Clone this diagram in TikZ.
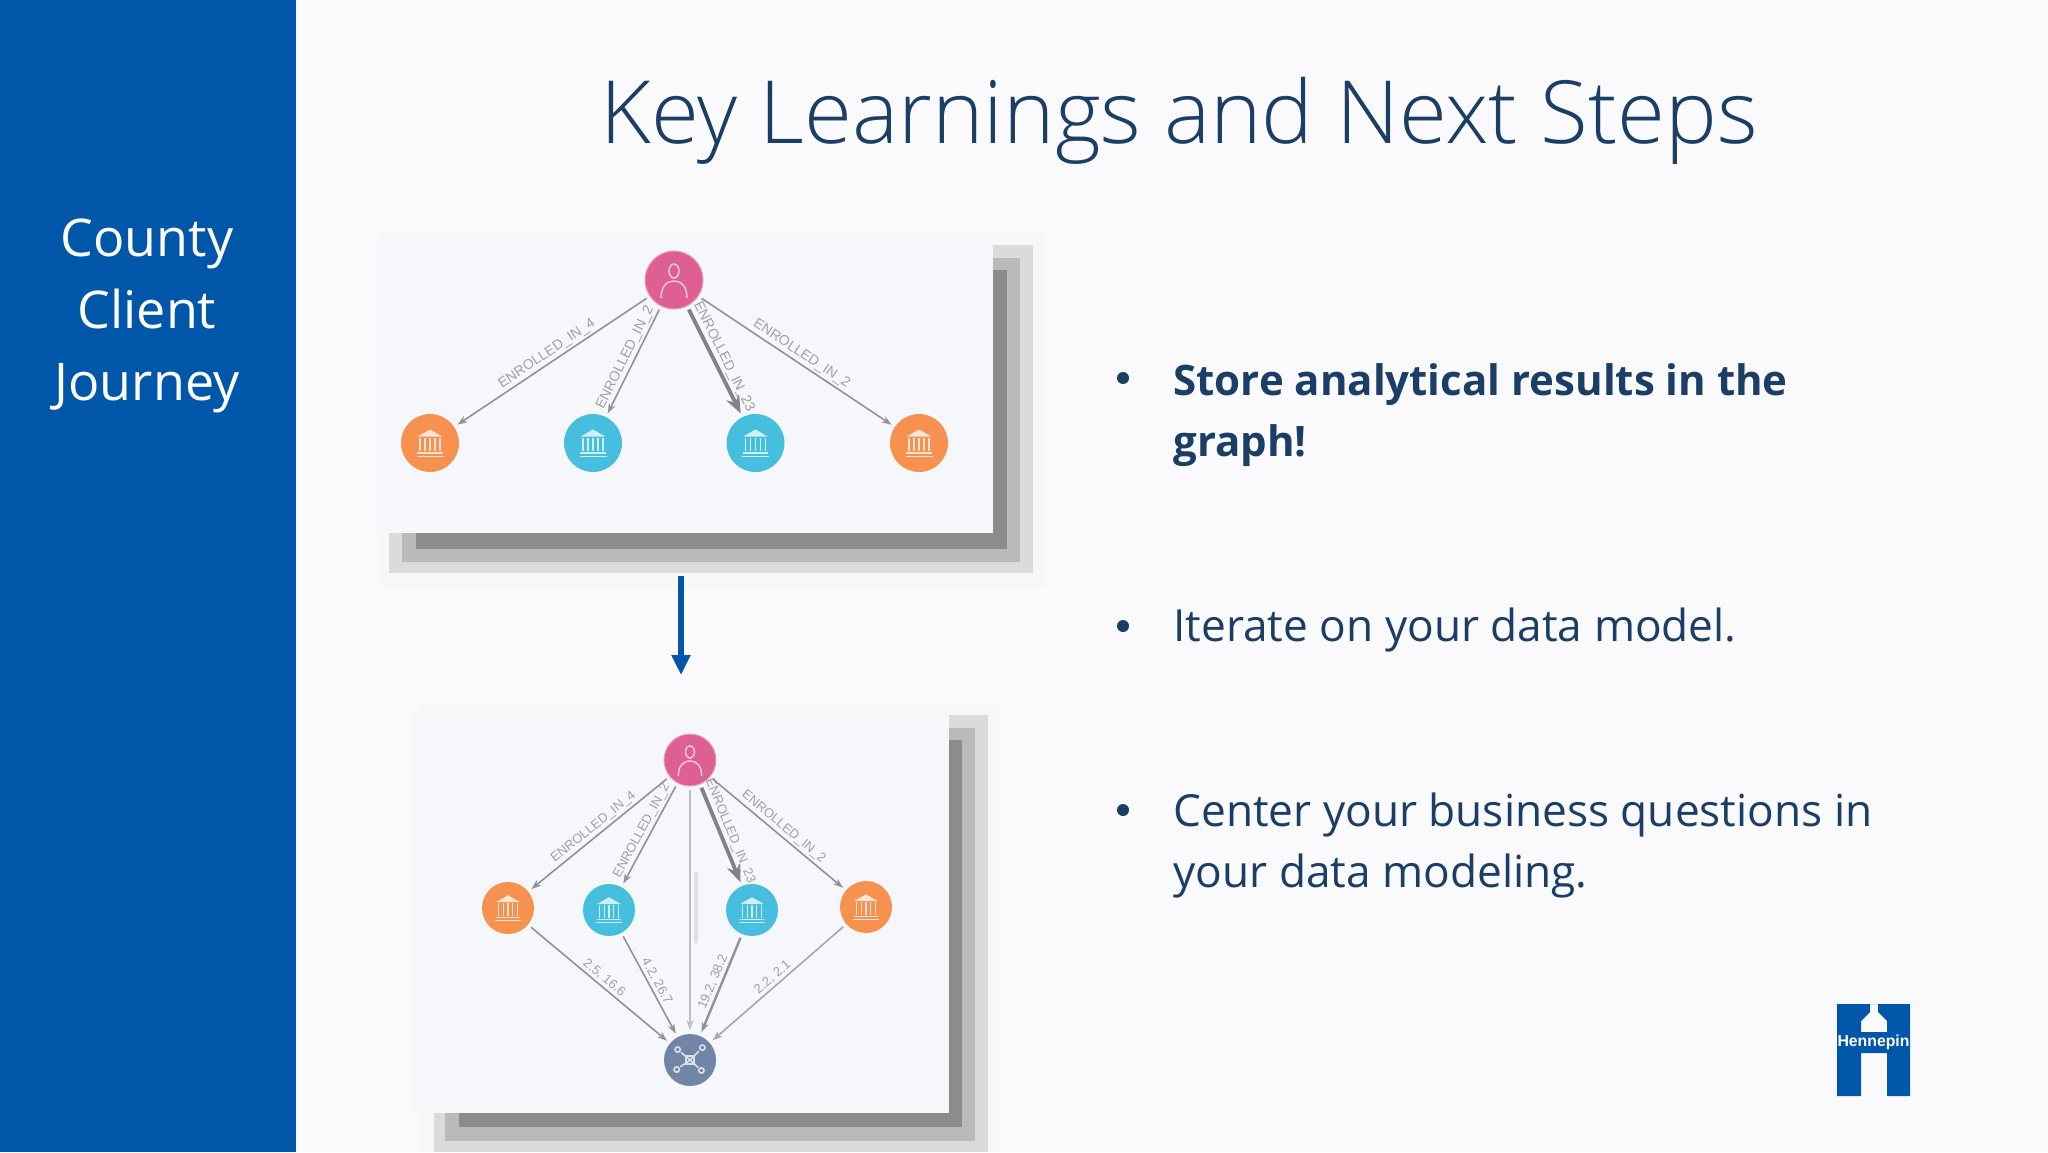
\documentclass[tikz,border=0pt]{standalone}
\usepackage{fontspec}
\setmainfont{Open Sans}
\newfontfamily\titlefont{Open Sans Light}
\newfontfamily\labelfont{Liberation Sans}
\usetikzlibrary{arrows.meta}
\definecolor{sidebar}{HTML}{0056A8}
\definecolor{pagebg}{HTML}{FAFAFD}
\definecolor{inkblue}{HTML}{1B3E66}
\definecolor{cardbg}{HTML}{F5F7FB}
\definecolor{edgegray}{HTML}{8F9296}
\definecolor{labelgray}{HTML}{9EA0A4}
\definecolor{pinkn}{HTML}{DE5F92}
\definecolor{orangen}{HTML}{F79150}
\definecolor{bluen}{HTML}{46BEDD}
\definecolor{hubn}{HTML}{7186A6}
\tikzset{
 x=0.5pt,y=-0.5pt,
 circ/.style={circle,inner sep=0pt,outer sep=2pt,minimum size=#1*1pt},
 userc/.style={circ=#1,fill=pinkn,draw=pinkn!60!white,line width=.5pt},
 orc/.style={circ=#1,fill=orangen},
 blc/.style={circ=#1,fill=bluen},
 hubc/.style={circ=#1,fill=hubn},
 edge1/.style={draw=edgegray,line width=.8pt,-{Stealth[length=5pt,width=3.5pt]}},
 edge2/.style={draw=edgegray!90!black,line width=1.9pt,-{Stealth[length=9pt,width=7pt]}},
 elab/.style={font=\labelfont\fontsize{#1}{#1}\selectfont,text=labelgray,inner sep=1pt},
 stitle/.style={font=\titlefont\fontsize{43.6}{50}\selectfont,text=inkblue},
 sidetxt/.style={font=\fontsize{26}{36}\selectfont,text=white,align=center},
 bodytxt/.style={font=\fontsize{22.1}{30.5}\selectfont,text=inkblue,anchor=west,align=left,inner sep=0pt},
 boldtxt/.style={font=\fontsize{21}{30.5}\selectfont\bfseries,text=inkblue,anchor=west,align=left,inner sep=0pt},
 bullet/.style={circle,fill=inkblue,inner sep=0pt,minimum size=6pt},
}
\newcommand{\bankicon}[3]{\begin{scope}[shift={(#1)},scale=#2,draw=#3!25!white,fill=#3!25!white,line width=.7pt]
 \fill (-14,-7)--(0,-15)--(14,-7)--cycle;
 \foreach \i in {-11,-5.5,0,5.5,11}{\draw (\i,-6)--(\i,9);}
 \draw (-14,11)--(14,11);\draw (-15,15)--(15,15);
\end{scope}}
\newcommand{\personicon}[2]{\begin{scope}[shift={(#1)},scale=#2,draw=pinkn!30!white,line width=.7pt]
 \draw (0,-9) ellipse (5 and 7);
 \draw (-13,18) .. controls (-13,5) and (-6,1) .. (0,1) .. controls (6,1) and (13,5) .. (13,18);
\end{scope}}
\newcommand{\hubicon}[2]{\begin{scope}[shift={(#1)},scale=#2,draw=hubn!25!white,line width=.8pt]
 \draw (-4,-4) rectangle (4,4);
 \foreach \a/\b in {-13/-11,13/-13,-14/10,12/11}{\draw (\a,\b) circle (2.8); \draw (0,0)--(\a*.72,\b*.72);}
\end{scope}}
\begin{document}
\begin{tikzpicture}
\useasboundingbox (0,0) rectangle (2048,1152);
\fill[pagebg] (0,0) rectangle (2048,1152);
\fill[sidebar] (0,0) rectangle (296,1152);
\node[sidetxt] (side) at (147,316) {County\\Client\\Journey};
\node[stitle] (title) at (1179,121) {Key Learnings and Next Steps};

% card 1
\fill[black!3] (378,233) rectangle (1045,587);
\fill[black!14] (389,245) rectangle (1033,573);
\fill[black!27] (402,258) rectangle (1020,562);
\fill[black!45] (416,270) rectangle (1007,549);
\fill[cardbg] (375,240) rectangle (993,533);
\node[userc=29] (u1) at (674,280) {};
\node[orc=29] (o1a) at (430,443) {};
\node[blc=29] (b1a) at (593,443) {};
\node[blc=29] (b1b) at (755.5,443) {};
\node[orc=29] (o1b) at (919,443) {};
\personicon{u1}{1}
\bankicon{o1a}{.9}{orangen}\bankicon{b1a}{.9}{bluen}\bankicon{b1b}{.9}{bluen}\bankicon{o1b}{.9}{orangen}
\draw[edge1] (u1) -- node[elab=7,sloped,above]{ENROLLED\_IN\_4} (o1a);
\draw[edge1] (u1) -- node[elab=7,sloped,above]{ENROLLED\_IN\_2} (b1a);
\draw[edge2] (u1) -- node[elab=7,sloped,above]{ENROLLED\_IN\_23} (b1b);
\draw[edge1] (u1) -- node[elab=7,sloped,above]{ENROLLED\_IN\_2} (o1b);

% arrow
\coordinate (ar1) at (681,576);
\coordinate (ar2) at (681,675);
\draw[sidebar,line width=3pt,-{Stealth[length=10pt,width=9pt,inset=0pt]}] (ar1) -- (ar2);

% card 2
\fill[black!3] (420,704) rectangle (1001,1152);
\fill[black!14] (434,715) rectangle (988,1152);
\fill[black!27] (445,728) rectangle (975,1141);
\fill[black!45] (459,740) rectangle (962,1127);
\fill[cardbg] (410,710) rectangle (949,1113);
\node[userc=26] (u2) at (690,760) {};
\node[orc=26] (o2a) at (508,908) {};
\node[blc=26] (b2a) at (609,910) {};
\node[blc=26] (b2b) at (752,910) {};
\node[orc=26] (o2b) at (866,907) {};
\node[hubc=26] (h2) at (690,1060) {};
\personicon{u2}{.9}
\bankicon{o2a}{.85}{orangen}\bankicon{b2a}{.85}{bluen}\bankicon{b2b}{.85}{bluen}\bankicon{o2b}{.85}{orangen}
\hubicon{h2}{.95}
\draw[edge1] (u2) -- node[elab=6.5,sloped,above]{ENROLLED\_IN\_4} (o2a);
\draw[edge1] (u2) -- node[elab=6.5,sloped,above]{ENROLLED\_IN\_2} (b2a);
\draw[edge2] (u2) -- node[elab=6.5,sloped,above]{ENROLLED\_IN\_23} (b2b);
\draw[edge1] (u2) -- node[elab=6.5,sloped,above]{ENROLLED\_IN\_2} (o2b);
\draw[edge1,draw=edgegray!60!white] (u2) -- (h2);
\draw[edge1] (o2a) -- node[elab=6.5,sloped,above]{2.5, 16.6} (h2);
\draw[edge1] (b2a) -- node[elab=6.5,sloped,above]{4.2, 26.7} (h2);
\draw[edge1,line width=1.2pt] (b2b) -- node[elab=6.5,sloped,above]{19.2, 38.2} (h2);
\draw[edge1,draw=edgegray!80!white] (o2b) -- node[elab=6.5,sloped,above]{2.2, 2.1} (h2);
% illegible tiny label beside the centre edge, kept as a faint smear
\fill[black!12] (694,872) rectangle (698,943);

% bullets
\node[bullet] (d1) at (1123,378) {};
\node[boldtxt] (t1) at (1173,415) {Store analytical results in the\\graph!};
\node[bullet] (d2) at (1123,626) {};
\node[bodytxt] (t2) at (1173,630) {Iterate on your data model.};
\node[bullet] (d3) at (1123,810) {};
\node[bodytxt] (t3) at (1173,845) {Center your business questions in\\your data modeling.};

% logo
\fill[sidebar,even odd rule] (1837,1004) -- (1910,1004) -- (1910,1096) -- (1887,1096) -- (1887,1053) -- (1861,1053) -- (1861,1096) -- (1837,1096) -- cycle
 (1870,1004) -- (1878,1004) -- (1878,1012) -- (1887,1021) -- (1887,1032) -- (1861,1032) -- (1861,1021) -- (1870,1012) -- cycle;
\node[font=\labelfont\bfseries\fontsize{7.9}{8}\selectfont,text=white,inner sep=0pt] (logo) at (1873.5,1042) {Hennepin};
\end{tikzpicture}
\end{document}
